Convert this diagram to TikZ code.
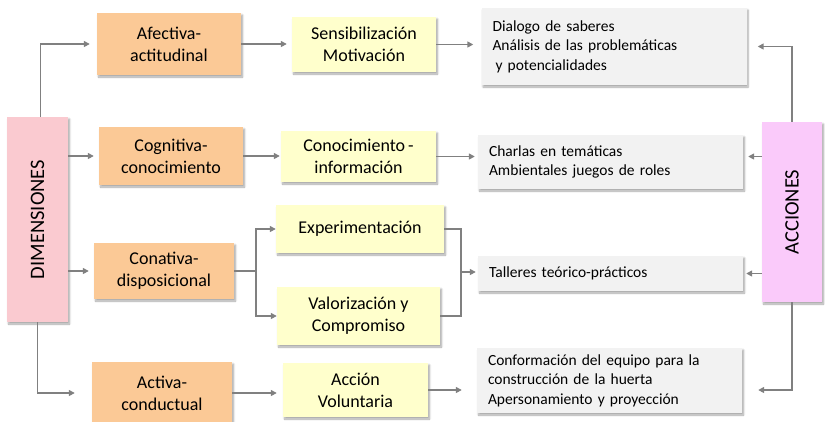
\documentclass[tikz,border=0pt]{standalone}
\usepackage{fontspec}
\setmainfont{Carlito}
\usetikzlibrary{arrows.meta,shadows.blur}
\definecolor{peach}{RGB}{251,201,150}
\definecolor{paleyellow}{RGB}{255,255,204}
\definecolor{palegray}{RGB}{242,242,242}
\definecolor{palepink}{RGB}{250,202,208}
\definecolor{palemagenta}{RGB}{250,202,250}
\definecolor{linegray}{RGB}{128,128,128}

\begin{document}
\begin{tikzpicture}[x=1pt,y={(0pt,-1pt)},
  >={Triangle[length=6pt,width=6pt]},
  shade/.style={blur shadow={shadow xshift=1.5pt,shadow yshift=-2pt,shadow blur steps=6,shadow opacity=35}},
  sidebox/.style={shade,inner sep=0pt,rotate=90,font=\fontsize{20.5}{24}\selectfont},
  dimbox/.style={sidebox,fill=palepink},
  accbox/.style={sidebox,fill=palemagenta},
  ejebox/.style={shade,fill=peach,inner sep=0pt,align=center,font=\fontsize{18}{22}\selectfont},
  procbox/.style={shade,fill=paleyellow,inner sep=0pt,align=center,font=\fontsize{18}{22}\selectfont},
  actbox/.style={shade,fill=palegray,inner xsep=11pt,inner ysep=0pt,text width=243pt,align=left,font=\fontsize{15.5}{19.5}\selectfont},
  link/.style={line width=1.8pt,linegray}]
\useasboundingbox (0,0) rectangle (825,421);

\node[dimbox,minimum width=205pt,minimum height=61pt] (dim) at (37.5,219.5) {DIMENSIONES};
\node[accbox,minimum width=180pt,minimum height=60pt] (acc) at (792,212) {ACCIONES};

\node[ejebox,minimum width=144pt,minimum height=62pt] (afe) at (169,44) {Afectiva-\\actitudinal};
\node[ejebox,minimum width=144pt,minimum height=58pt] (cog) at (171,156) {Cognitiva-\\conocimiento};
\node[ejebox,minimum width=140pt,minimum height=56pt] (con) at (164,271) {Conativa-\\disposicional};
\node[ejebox,minimum width=140pt,minimum height=62pt] (act) at (162,393) {Activa-\\conductual};

\node[procbox,minimum width=144pt,minimum height=55pt] (sen) at (364,44.5) {Sensibilización\\Motivación};
\node[procbox,minimum width=155pt,minimum height=51pt] (cnc) at (358.5,156.5) {Conocimiento\,-\\información};
\node[procbox,minimum width=168pt,minimum height=48pt] (exp) at (360,229) {Experimentación};
\node[procbox,minimum width=163pt,minimum height=58pt] (val) at (358.5,316) {Valorización y\\Compromiso};
\node[procbox,minimum width=145pt,minimum height=54pt] (acv) at (355.5,390) {Acción\\Voluntaria};

\node[actbox,minimum height=77pt] (dia) at (614,46.5) {Dialogo de saberes\\Análisis de las problemáticas\\\hspace*{3pt}y potencialidades};
\node[actbox,minimum height=54pt] (cha) at (610.5,162) {Charlas en temáticas\\Ambientales juegos de roles};
\node[actbox,minimum height=35pt] (tal) at (610.5,273.5) {Talleres teórico-prácticos};
\node[actbox,minimum height=65pt] (cnf) at (609.5,380.5) {Conformación del equipo para la\\construcción de la huerta\\Apersonamiento y proyección};

\coordinate (fork) at (256,271);
\coordinate (join) at (461,272);

\draw[link,->,shorten >=7pt] ([xshift=3pt]dim.east) |- (afe.west);
\draw[link,->,shorten >=5pt] (dim.south |- cog.west) -- (cog.west);
\draw[link,->,shorten >=5pt] (dim.south |- con.west) -- (con.west);
\draw[link,->,shorten >=17pt] (dim.west) |- (act.west);

\draw[link,->,shorten >=5pt] (afe.east) -- (afe.east -| sen.west);
\draw[link,->,shorten >=1pt] (cog.east) -- (cog.east -| cnc.west);
\draw[link] (con.east) -- (fork);
\draw[link,->] (fork) |- (exp.west);
\draw[link,->] (fork) |- (val.west);
\draw[link,->,shorten >=6pt] (act.east) -- (act.east -| acv.west);

\draw[link,->,shorten >=8pt] (sen.east) -- (sen.east -| dia.west);
\draw[link,->,shorten >=3pt] (cnc.east) -- (cnc.east -| cha.west);
\draw[link] (exp.east) -| (join);
\draw[link] (val.east) -| (join);
\draw[link,->,shorten >=2pt] (join) -- (join -| tal.west);
\draw[link,->,shorten >=15pt] (acv.east) -- (acv.east -| cnf.west);

\draw[link,->,shorten >=11pt] (acc.east) |- (dia.east);
\draw[link,->,shorten >=5pt] (acc.north |- cnc.east) -- (cnc.east -| cha.east);
\draw[link,->,shorten >=3pt] (acc.north |- tal.east) -- (tal.east);
\draw[link,->,shorten >=16pt] (acc.west) |- (acv.east -| cnf.east);
\end{tikzpicture}
\end{document}
